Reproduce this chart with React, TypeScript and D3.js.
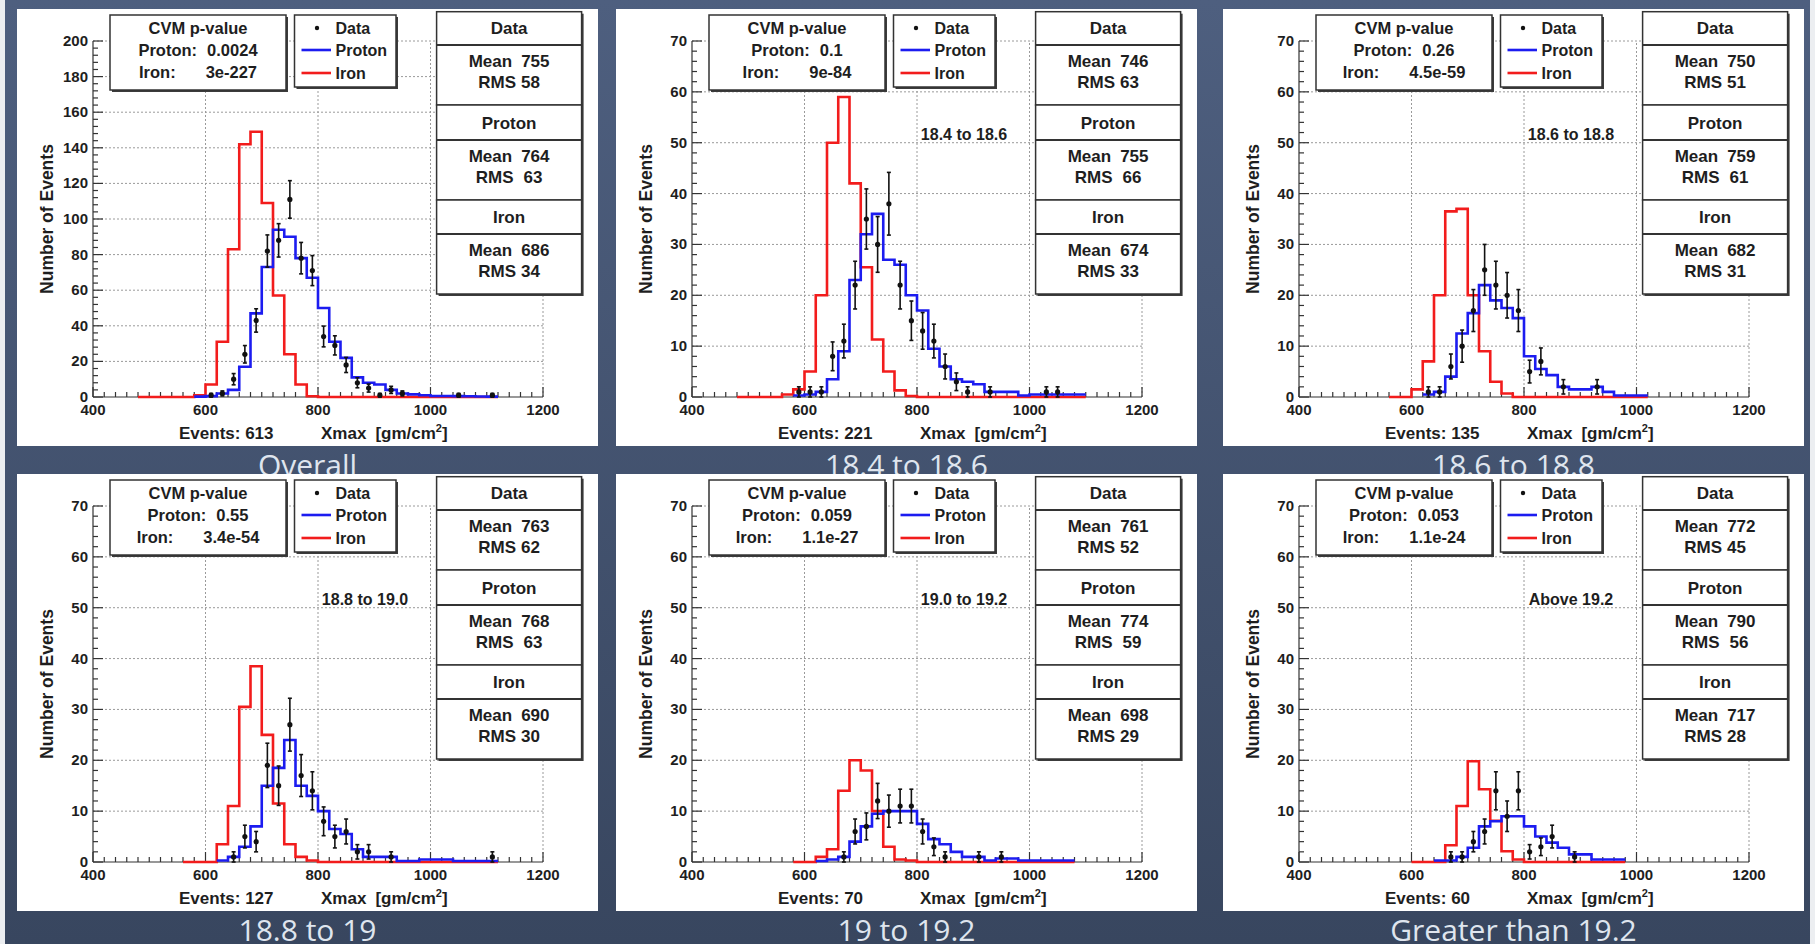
import React from 'react';
import * as d3 from 'd3';

const W = 1815;
const H = 944;

// panel captions under each plot and the energy note inside the plot
const panelTitles = ['Overall', '18.4 to 18.6', '18.6 to 18.8', '18.8 to 19', '19 to 19.2', 'Greater than 19.2'];
const energyNotes = ['', '18.4 to 18.6', '18.6 to 18.8', '18.8 to 19.0', '19.0 to 19.2', 'Above 19.2'];
const eventCounts = [613, 221, 135, 127, 70, 60];
const yMax = [200, 70, 70, 70, 70, 70];

// CVM p-values
const cvmProton = ['0.0024', '0.1', '0.26', '0.55', '0.059', '0.053'];
const cvmIron = ['3e-227', '9e-84', '4.5e-59', '3.4e-54', '1.1e-27', '1.1e-24'];

// stat boxes
const dataMean = [755, 746, 750, 763, 761, 772];
const dataRms = [58, 63, 51, 62, 52, 45];
const protonMean = [764, 755, 759, 768, 774, 790];
const protonRms = [63, 66, 61, 63, 59, 56];
const ironMean = [686, 674, 682, 690, 698, 717];
const ironRms = [34, 33, 31, 30, 29, 28];

// simulated histograms, 20 gm/cm2 bins starting at *Start
const binWidth = 20;
const ironStart = [480, 480, 560, 560, 580, 600];
const ironCounts = [
  [0, 0, 0, 0, 0, 1, 7, 31, 83, 142, 149, 109, 57, 24, 7, 0.4, 0, 0, 0, 0, 0, 0, 0, 0, 0, 0, 0, 0, 0, 0, 0, 0],
  [0, 0, 0, 0, 0.5, 1.5, 5, 20, 50, 59, 42, 25.5, 11.3, 5, 1.3, 0.2, 0, 0, 0, 0, 0, 0, 0, 0, 0, 0, 0, 0, 0, 0, 0],
  [0, 0, 1.5, 7, 20, 36.5, 37, 20, 9, 3, 0.7, 0, 0, 0, 0, 0, 0, 0, 0, 0, 0, 0, 0],
  [0, 0, 0, 3.5, 11, 30.5, 38.5, 25, 11.5, 3.5, 1, 0.3, 0, 0, 0, 0, 0, 0, 0, 0, 0, 0, 0, 0, 0, 0, 0, 0],
  [0, 0, 1, 2.5, 14, 20, 18, 10, 3, 0.5, 0.3, 0, 0, 0, 0, 0, 0, 0, 0, 0, 0, 0, 0, 0, 0],
  [0, 0, 0, 3.3, 11, 19.8, 14.3, 8.1, 2.1, 0.5, 0, 0, 0, 0, 0, 0, 0, 0, 0],
];
const protonStart = [580, 580, 620, 620, 620, 640];
const protonCounts = [
  [0.2, 0.5, 2, 4, 17, 47, 73, 94, 90, 78, 67, 50, 31, 22, 11, 8, 7, 4, 2, 1.5, 1, 0.6, 0.6, 0.5, 0.4, 0.3, 0.2],
  [0.3, 0.5, 1, 3.5, 9, 23, 32, 36, 27, 26, 20, 17, 9.5, 6, 3.5, 3, 2.5, 1, 1, 1, 0.3, 0.5, 0.5, 0.5, 0.5, 0.5],
  [0.5, 1, 4, 12.5, 16.5, 22, 19, 17.5, 15.5, 8, 5.5, 4.3, 2, 1.5, 1.5, 2, 1, 0.3, 0.3, 0.3],
  [0.3, 1, 3, 7, 15, 18.5, 24, 15, 13, 10, 6.5, 5.5, 2.5, 1, 1, 1, 0.2, 0.2, 0.5, 0.5, 0.5, 0.2, 0.2, 0.2, 0.2],
  [0.2, 0.5, 1, 4, 7, 9.5, 10, 10, 10, 7.5, 4.5, 3.5, 2, 1, 1, 0.3, 0.7, 0.7, 0.3, 0.3, 0.3, 0.3, 0.3],
  [0.3, 0.3, 1, 2.8, 7, 8, 9, 9, 7, 5, 3.8, 2.8, 1.5, 1.5, 0.5, 0.5, 0.5],
];

// measured events: bin centres and counts
const dataBins = [
  [610, 630, 650, 670, 690, 710, 730, 750, 770, 790, 810, 830, 850, 870, 890, 910, 930, 950, 1050, 1110],
  [590, 610, 630, 650, 670, 690, 710, 730, 750, 770, 790, 810, 830, 850, 870, 890, 930, 1030, 1050],
  [630, 650, 670, 690, 710, 730, 750, 770, 790, 810, 830, 870, 930],
  [650, 670, 690, 710, 730, 750, 770, 790, 810, 830, 850, 870, 890, 930, 1110],
  [670, 690, 710, 730, 750, 770, 790, 810, 830, 850, 910, 950],
  [670, 690, 710, 730, 750, 770, 790, 810, 830, 850, 890],
];
const dataCounts = [
  [1, 2, 10, 24, 43, 82, 88, 111, 78, 71, 34, 29, 18, 8, 5, 1, 4, 2, 1, 1],
  [1, 1, 1, 8, 11, 22, 35, 30, 38, 22, 15, 13, 11, 6, 3, 1, 1, 1, 1],
  [1, 1, 6, 10, 17, 25, 22, 20, 17, 5, 7, 2, 2],
  [1, 5, 4, 19, 15, 27, 17, 14, 8, 5, 6, 2, 2, 1, 1],
  [1, 6, 7, 12, 10, 11, 11, 6, 3, 1, 1, 1],
  [1, 1, 4, 6, 14, 9, 14, 2, 3, 5, 1],
];

const panelX = [17, 616, 1223];
const panelY = [9, 474];
const panelW = 581;
const panelH = 437;

const FONT = '"Liberation Sans", Arial, Helvetica, sans-serif';
const INK = '#1e1e1e';
const RED = '#f21c1c';
const BLUE = '#1c1cf0';

const PaveBox = ({ x, y, w, h }: { x: number; y: number; w: number; h: number }) => (
  <g>
    <rect x={x + 2} y={y + 2} width={w} height={h} fill="#3c3c3c" />
    <rect x={x} y={y} width={w} height={h} fill="#fff" stroke="#333" strokeWidth={1.5} />
  </g>
);

const Panel = ({ i, x0, y0 }: { i: number; x0: number; y0: number }) => {
  const x = d3.scaleLinear().domain([400, 1200]).range([x0 + 76, x0 + 526]);
  const y = d3.scaleLinear().domain([0, yMax[i]]).range([y0 + 388, y0 + 32]);
  const major = yMax[i] === 200 ? 20 : 10;
  const yMajor = d3.range(0, yMax[i] + 0.001, major);
  const yMinor = d3.range(0, yMax[i] + 0.001, major / 5);
  const xMajor = x.ticks(4);
  const xMinor = d3.range(400, 1200.1, binWidth);
  const [bx0, bx1] = x.range();
  const [by0, by1] = y.range();

  const step = d3
    .line<[number, number]>()
    .x((d) => x(d[0]))
    .y((d) => y(d[1]))
    .curve(d3.curveStepAfter);

  const histPts = (start: number, counts: number[]) => {
    const pts: [number, number][] = counts.map((c, k) => [start + k * binWidth, c]);
    pts.push([start + counts.length * binWidth, counts[counts.length - 1]]);
    return pts;
  };

  const sx = x0 + 419.6;
  const sw = 145;
  const statRows = [
    { top: 2.7, mid: 36, bot: 96, title: 'Data', m: dataMean[i], r: dataRms[i], gap: 5 },
    { top: 96, mid: 131, bot: 191, title: 'Proton', m: protonMean[i], r: protonRms[i], gap: 10 },
    { top: 191, mid: 225, bot: 285, title: 'Iron', m: ironMean[i], r: ironRms[i], gap: 5 },
  ];

  return (
    <g fontFamily={FONT}>
      <rect x={x0} y={y0} width={panelW} height={panelH} fill="#fff" />

      {/* grid */}
      <g stroke="#9a9a9a" strokeWidth={1} strokeDasharray="2,2">
        {yMajor.slice(1).map((v) => (
          <line key={'gy' + v} x1={bx0} x2={bx1} y1={y(v)} y2={y(v)} />
        ))}
        {xMajor.slice(1).map((v) => (
          <line key={'gx' + v} x1={x(v)} x2={x(v)} y1={by0} y2={by1} />
        ))}
      </g>

      {/* axes */}
      <g stroke="#333" strokeWidth={1.2}>
        <line x1={bx0} x2={bx1} y1={by0} y2={by0} />
        <line x1={bx0} x2={bx0} y1={by0} y2={by1} />
        {xMinor.map((v) => (
          <line key={'xm' + v} x1={x(v)} x2={x(v)} y1={by0} y2={by0 - (v % 200 === 0 ? 10 : 5)} />
        ))}
        {yMinor.map((v) => (
          <line key={'ym' + v} x1={bx0} x2={bx0 + (v % major === 0 ? 10 : 5)} y1={y(v)} y2={y(v)} />
        ))}
      </g>
      <g fontSize={15} fontWeight="bold" fill={INK}>
        {yMajor.map((v) => (
          <text key={'yl' + v} x={bx0 - 5} y={y(v) + 5} textAnchor="end">
            {v}
          </text>
        ))}
        {xMajor.map((v) => (
          <text key={'xl' + v} x={x(v)} y={by0 + 18} textAnchor="middle">
            {v}
          </text>
        ))}
      </g>
      <text
        transform={`translate(${x0 + 36},${(by0 + by1) / 2}) rotate(-90)`}
        textAnchor="middle"
        fontSize={17.5}
        fontWeight="bold"
        fill={INK}
      >
        Number of Events
      </text>
      <text x={x0 + 162} y={by0 + 42} fontSize={17} fontWeight="bold" fill={INK}>
        {`Events: ${eventCounts[i]}`}
      </text>
      <text x={x0 + 304} y={by0 + 42} fontSize={17} fontWeight="bold" fill={INK}>
        <tspan>Xmax</tspan>
        <tspan dx={9}>[gm/cm</tspan>
        <tspan fontSize={11} dy={-7}>2</tspan>
        <tspan dy={7}>]</tspan>
      </text>

      {energyNotes[i] && (
        <text x={x0 + 348} y={y0 + 131} textAnchor="middle" fontSize={16} fontWeight="bold" fill={INK}>
          {energyNotes[i]}
        </text>
      )}

      {/* histograms */}
      <path d={step(histPts(ironStart[i], ironCounts[i])) || ''} fill="none" stroke={RED} strokeWidth={2.6} />
      <path d={step(histPts(protonStart[i], protonCounts[i])) || ''} fill="none" stroke={BLUE} strokeWidth={2.6} />

      {/* data with sqrt(N) errors */}
      <g stroke="#111" strokeWidth={1.6}>
        {dataBins[i].map((c, k) => {
          const n = dataCounts[i][k];
          const e = Math.sqrt(n);
          const yl = y(Math.max(0, n - e));
          const yh = y(n + e);
          return (
            <g key={'d' + c}>
              <line x1={x(c)} x2={x(c)} y1={yl} y2={yh} />
              <line x1={x(c) - 2} x2={x(c) + 2} y1={yl} y2={yl} />
              <line x1={x(c) - 2} x2={x(c) + 2} y1={yh} y2={yh} />
              <circle cx={x(c)} cy={y(n)} r={2.6} fill="#111" stroke="none" />
            </g>
          );
        })}
      </g>

      {/* CVM box */}
      <PaveBox x={x0 + 93} y={y0 + 6} w={176} h={75} />
      <g fontSize={16.5} fontWeight="bold" fill={INK} textAnchor="middle">
        <text x={x0 + 181} y={y0 + 25}>CVM p-value</text>
        <text x={x0 + 181} y={y0 + 47}>
          <tspan>Proton:</tspan>
          <tspan dx={10}>{cvmProton[i]}</tspan>
        </text>
        <text x={x0 + 181} y={y0 + 69}>
          <tspan>Iron:</tspan>
          <tspan dx={30}>{cvmIron[i]}</tspan>
        </text>
      </g>

      {/* legend */}
      <PaveBox x={x0 + 277.5} y={y0 + 6} w={101.5} h={72} />
      <circle cx={x0 + 300} cy={y0 + 19} r={2.2} fill="#111" />
      <line x1={x0 + 284.5} x2={x0 + 314} y1={y0 + 41} y2={y0 + 41} stroke={BLUE} strokeWidth={2.6} />
      <line x1={x0 + 284.5} x2={x0 + 314} y1={y0 + 64} y2={y0 + 64} stroke={RED} strokeWidth={2.6} />
      <g fontSize={16} fontWeight="bold" fill={INK}>
        <text x={x0 + 318.5} y={y0 + 25}>Data</text>
        <text x={x0 + 318.5} y={y0 + 47}>Proton</text>
        <text x={x0 + 318.5} y={y0 + 70}>Iron</text>
      </g>

      {/* stat boxes */}
      {statRows.map((s) => (
        <g key={s.title}>
          <PaveBox x={sx} y={y0 + s.top} w={sw} h={s.bot - s.top} />
          <line x1={sx} x2={sx + sw} y1={y0 + s.mid} y2={y0 + s.mid} stroke="#333" strokeWidth={2} />
          <g fontSize={17} fontWeight="bold" fill={INK} textAnchor="middle">
            <text x={sx + sw / 2} y={y0 + (s.top + s.mid) / 2 + 6}>{s.title}</text>
            <text x={sx + sw / 2} y={y0 + s.mid + 22}>
              <tspan>Mean</tspan>
              <tspan dx={9}>{s.m}</tspan>
            </text>
            <text x={sx + sw / 2} y={y0 + s.mid + 43}>
              <tspan>RMS</tspan>
              <tspan dx={s.gap}>{s.r}</tspan>
            </text>
          </g>
        </g>
      ))}
    </g>
  );
};

const App = () => {
  const cells = d3.range(6).map((i) => ({ i, x0: panelX[i % 3], y0: panelY[Math.floor(i / 3)] }));
  return (
    <svg width={W} height={H} style={{ position: 'absolute', left: 0, top: 0 }}>
      <defs>
        <linearGradient id="bg" x1="0" y1="0" x2="0" y2="1">
          <stop offset="0" stopColor="#4e5f7f" />
          <stop offset="1" stopColor="#38465f" />
        </linearGradient>
      </defs>
      <rect width={W} height={H} fill="url(#bg)" />
      <rect x={0} y={0} width={5} height={H} fill="#eceef1" />
      <rect x={W - 5} y={0} width={5} height={H} fill="#eceef1" />

      {cells.map((c) => (
        <text
          key={'t' + c.i}
          x={c.x0 + panelW / 2}
          y={c.y0 + panelH + 30}
          textAnchor="middle"
          fontFamily='"Open Sans", sans-serif'
          fontSize={30}
          fill="#dfe5ee"
        >
          {panelTitles[c.i]}
        </text>
      ))}
      {cells.map((c) => (
        <Panel key={c.i} i={c.i} x0={c.x0} y0={c.y0} />
      ))}
    </svg>
  );
};

export default App;
